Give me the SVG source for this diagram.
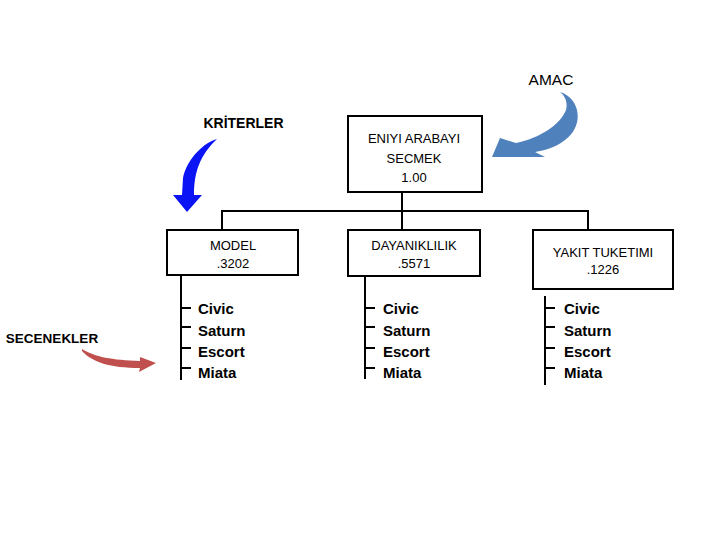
<svg xmlns="http://www.w3.org/2000/svg" width="720" height="540" viewBox="0 0 720 540">
<style>
.box{fill:#fff;stroke:#000;stroke-width:2}
.ln{stroke:#000;stroke-width:2;fill:none}
text{font-family:"Liberation Sans",Arial,sans-serif;font-weight:bold;fill:#000}
.bt{font-size:13px;text-anchor:middle;font-weight:normal}
.li{font-size:15px}
.am{font-size:15.5px;font-weight:normal;text-anchor:middle}
</style>
<rect width="720" height="540" fill="#fff"/>
<g id="connectors">
<path class="ln" d="M402,192V211M222,211H588M222,210V230M402,211V230M588,210V230"/>
<path class="ln" d="M181,275V380M181,308H191M181,327H191M181,348H191M181,368H191"/>
<path class="ln" d="M365,276V379M365,308H375M365,327H375M365,348H375M365,368H375"/>
<path class="ln" d="M545,296V385M545,308H555M545,327H555M545,348H555M545,368H555"/>
</g>
<g id="goal">
<rect class="box" x="348" y="116" width="134" height="76"/>
<text class="bt" x="414" y="143">ENIYI ARABAYI</text>
<text class="bt" x="414" y="163">SECMEK</text>
<text class="bt" x="414" y="182">1.00</text>
</g>
<g id="model">
<rect class="box" x="167" y="230" width="131" height="45"/>
<text class="bt" x="233" y="250">MODEL</text>
<text class="bt" x="233" y="268">.3202</text>
</g>
<g id="dayaniklilik">
<rect class="box" x="348" y="230" width="132" height="46"/>
<text class="bt" x="414" y="250">DAYANIKLILIK</text>
<text class="bt" x="414" y="268">.5571</text>
</g>
<g id="yakit">
<rect class="box" x="533" y="230" width="140" height="59"/>
<text class="bt" x="603" y="257">YAKIT TUKETIMI</text>
<text class="bt" x="603" y="274">.1226</text>
</g>
<g id="list-model">
<text class="li" x="198" y="314">Civic</text>
<text class="li" x="198" y="336">Saturn</text>
<text class="li" x="198" y="357">Escort</text>
<text class="li" x="198" y="378">Miata</text>
</g>
<g id="list-dayaniklilik">
<text class="li" x="383" y="314">Civic</text>
<text class="li" x="383" y="336">Saturn</text>
<text class="li" x="383" y="357">Escort</text>
<text class="li" x="383" y="378">Miata</text>
</g>
<g id="list-yakit">
<text class="li" x="564" y="314">Civic</text>
<text class="li" x="564" y="336">Saturn</text>
<text class="li" x="564" y="357">Escort</text>
<text class="li" x="564" y="378">Miata</text>
</g>
<g id="amac">
<text class="am" x="551" y="85">AMAC</text>
<path fill="#4F81BD" d="M560,92 C580,98 585,125 565,140 C555,148 545,150 535,152 L545,157 L492,157 L500,138 L516,143 C540,138 560,125 566,110 C568,102 565,96 560,92 Z"/>
</g>
<g id="kriterler">
<text x="243.5" y="128" font-size="14" text-anchor="middle">KRİTERLER</text>
<path fill="#0A14F5" d="M217,139 C205,142 187,158 183,178 L182,195 L173,195 L187,212 L202,195 L194,195 C194,172 200,155 217,139 Z"/>
</g>
<g id="secenekler">
<text x="52" y="343" font-size="13.5" text-anchor="middle">SECENEKLER</text>
<path fill="#C0504D" d="M82,349 C95,357 112,360 140,361 L140,357 L156,363 L139,372 L140,368 C110,368 92,362 82,351 Z"/>
</g>
</svg>
